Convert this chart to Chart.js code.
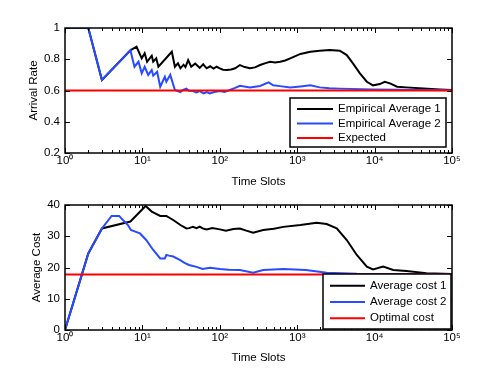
<!DOCTYPE html>
<html>
<head>
<meta charset="utf-8">
<script src="https://cdn.jsdelivr.net/npm/chart.js@4.4.1/dist/chart.umd.min.js"></script>
<style>
  html, body { margin: 0; padding: 0; background: #fff; }
  #wrap { position: relative; width: 498px; height: 375px; }
  .box { position: absolute; left: 0; width: 498px; }
</style>
</head>
<body>
<div id="wrap">
  <div class="box" style="top:0;height:190px"><canvas id="rateChart" width="498" height="190"></canvas></div>
  <div class="box" style="top:190px;height:185px"><canvas id="costChart" width="498" height="185"></canvas></div>
</div>
<script>
// Sumbu dan label
const xTicksMajor = [1, 10, 100, 1000, 10000, 100000];
const xTickLabels = ['10⁰', '10¹', '10²', '10³', '10⁴', '10⁵'];
const rateTicks = [0.2, 0.4, 0.6, 0.8, 1];
const rateTickLabels = ['0.2', '0.4', '0.6', '0.8', '1'];
const costTicks = [0, 10, 20, 30, 40];
const costTickLabels = ['0', '10', '20', '30', '40'];

const rateNames = ['Empirical Average 1', 'Empirical Average 2', 'Expected'];
const costNames = ['Average cost 1', 'Average cost 2', 'Optimal cost'];

// Grafik atas: laju kedatangan
const rate1Slots = [1, 2, 3, 7, 8.4, 9.8, 10.7, 11.5, 13.2, 13.8, 15.1, 16.1, 24, 26.3, 28.8, 31, 34, 36, 39, 42.7, 48, 55, 61, 67.6, 75, 83, 91, 100, 110, 123, 140, 158, 182, 210, 245, 285, 331, 390, 447, 520, 603, 700, 813, 1100, 1480, 1950, 2630, 3550, 4370, 5250, 6460, 7940, 9550, 11700, 13500, 15800, 19500, 25700, 42700, 69200, 100000];
const rate1Values = [1, 1, 0.667, 0.857, 0.88, 0.806, 0.838, 0.784, 0.823, 0.784, 0.806, 0.752, 0.848, 0.752, 0.774, 0.742, 0.765, 0.75, 0.795, 0.752, 0.772, 0.745, 0.768, 0.742, 0.755, 0.74, 0.752, 0.742, 0.733, 0.731, 0.735, 0.742, 0.763, 0.75, 0.742, 0.748, 0.763, 0.775, 0.784, 0.78, 0.784, 0.792, 0.806, 0.834, 0.848, 0.855, 0.859, 0.855, 0.827, 0.774, 0.71, 0.656, 0.633, 0.641, 0.656, 0.646, 0.624, 0.62, 0.613, 0.607, 0.603];
const rate2Slots = [1, 2, 3, 7, 7.9, 8.9, 9.8, 10.7, 11.9, 13.2, 13.8, 15.5, 17, 19.5, 20.4, 22.9, 26.3, 28, 30.9, 33, 37, 40, 44.7, 50, 55, 61.7, 68, 74, 85, 100, 115, 135, 155, 182, 245, 331, 427, 490, 600, 813, 1100, 1480, 1950, 2600, 3550, 9550, 100000];
const rate2Values = [1, 1, 0.667, 0.857, 0.752, 0.784, 0.71, 0.752, 0.70, 0.731, 0.695, 0.72, 0.624, 0.688, 0.656, 0.70, 0.603, 0.598, 0.59, 0.602, 0.612, 0.598, 0.597, 0.588, 0.596, 0.582, 0.59, 0.581, 0.59, 0.597, 0.59, 0.603, 0.615, 0.63, 0.62, 0.629, 0.652, 0.633, 0.628, 0.62, 0.626, 0.633, 0.62, 0.615, 0.612, 0.607, 0.601];
const expectedRate = 0.6;

// Grafik bawah: biaya rata-rata
const cost1Slots = [1, 2, 3, 7, 11, 13.2, 17, 20.4, 25, 31, 37, 40, 45, 50, 55, 60, 67.6, 80, 100, 120, 150, 182, 220, 270, 363, 500, 661, 1100, 1780, 2400, 3240, 4370, 5890, 7940, 9550, 12900, 17400, 25700, 46800, 100000];
const cost1Values = [0, 24.5, 32.5, 34.7, 39.7, 37.9, 36.5, 36.5, 35.2, 33.6, 32.5, 32.6, 33, 32.6, 33.1, 32.5, 32.2, 32.6, 32.2, 31.8, 32.3, 32.5, 31.8, 31.1, 32, 32.4, 33, 33.6, 34.3, 33.9, 32.5, 28.8, 24, 20.3, 19.4, 20.3, 19.2, 18.9, 18.2, 17.9];
const cost2Slots = [1, 2, 3, 4, 5, 5.6, 6.5, 7.1, 8.1, 9.3, 11.2, 13.8, 17, 19.5, 20.4, 22, 25, 30, 35, 40, 50, 60, 75, 100, 130, 182, 270, 363, 661, 1300, 2400, 5890, 100000];
const cost2Values = [0, 24.5, 32.5, 36.5, 36.5, 35.2, 33.6, 32, 31.5, 30.9, 28.8, 25.6, 22.9, 22.9, 24, 23.8, 23.5, 22.5, 21.5, 20.8, 20.2, 19.5, 19.9, 19.5, 19.3, 19.2, 18.3, 19.2, 19.5, 19.2, 18.3, 18, 17.9];
const optimalCost = 17.8;

const FONT = '"Liberation Sans", Arial, Helvetica, sans-serif';
const BLUE = 'rgb(40, 75, 255)';
Chart.defaults.color = '#000';
Chart.defaults.font.family = FONT;
Chart.defaults.font.size = 11.5;

function titik(xs, ys) {
  return xs.map((x, i) => ({ x: x, y: ys[i] }));
}

// Tick log: 1..9 tiap dekade
const xTickValues = [];
for (let d = 0; d < 5; d++) {
  for (let k = 1; k <= 9; k++) xTickValues.push(k * Math.pow(10, d));
}
xTickValues.push(100000);

// Bingkai dan tick ke dalam ala MATLAB
const bingkai = {
  id: 'bingkai',
  afterDatasetsDraw(chart) {
    const { ctx, chartArea: a, scales } = chart;
    const x = scales.x, y = scales.y;
    ctx.save();
    ctx.strokeStyle = '#000';
    ctx.lineWidth = 1;
    ctx.beginPath();
    x.ticks.forEach(t => {
      const px = Math.round(x.getPixelForValue(t.value)) + 0.5;
      const len = xTicksMajor.includes(t.value) ? 5 : 3;
      ctx.moveTo(px, a.bottom); ctx.lineTo(px, a.bottom - len);
      ctx.moveTo(px, a.top); ctx.lineTo(px, a.top + len);
    });
    y.ticks.forEach(t => {
      const py = Math.round(y.getPixelForValue(t.value)) + 0.5;
      ctx.moveTo(a.left, py); ctx.lineTo(a.left + 5, py);
      ctx.moveTo(a.right, py); ctx.lineTo(a.right - 5, py);
    });
    ctx.stroke();
    ctx.lineWidth = 1.5;
    ctx.strokeRect(a.left, a.top, a.right - a.left, a.bottom - a.top);
    ctx.restore();
  }
};

// Legenda kotak di dalam area grafik
const legendaKotak = {
  id: 'legendaKotak',
  afterDraw(chart, args, o) {
    const ctx = chart.ctx;
    ctx.save();
    ctx.fillStyle = '#fff';
    ctx.fillRect(o.left, o.top, o.width, o.height);
    ctx.strokeStyle = '#000';
    ctx.lineWidth = 1.5;
    ctx.strokeRect(o.left, o.top, o.width, o.height);
    ctx.font = '11.5px ' + FONT;
    ctx.textBaseline = 'middle';
    chart.data.datasets.forEach((ds, i) => {
      const cy = o.firstRow + i * o.rowGap;
      ctx.strokeStyle = ds.borderColor;
      ctx.lineWidth = 2;
      ctx.beginPath();
      ctx.moveTo(o.lineFrom, cy);
      ctx.lineTo(o.lineTo, cy);
      ctx.stroke();
      ctx.fillStyle = '#000';
      ctx.fillText(ds.label, o.textX, cy);
    });
    ctx.restore();
  }
};

function seri(label, data, color, order) {
  return { label: label, data: data, borderColor: color, borderWidth: 2, pointRadius: 0, tension: 0, order: order };
}

function buatGrafik(id, cfg) {
  return new Chart(document.getElementById(id), {
    type: 'line',
    data: { datasets: cfg.datasets },
    plugins: [bingkai, legendaKotak],
    options: {
      responsive: false,
      animation: false,
      layout: { padding: { top: cfg.padTop, right: 46, left: 0, bottom: 0 } },
      plugins: {
        legend: { display: false },
        tooltip: { enabled: false },
        legendaKotak: cfg.legend
      },
      scales: {
        x: {
          type: 'logarithmic',
          min: 1,
          max: 100000,
          afterBuildTicks: s => { s.ticks = xTickValues.map(v => ({ value: v })); },
          afterFit: s => { s.height = cfg.xHeight; },
          grid: { display: false, drawTicks: false },
          border: { display: false },
          ticks: {
            autoSkip: false,
            maxRotation: 0,
            padding: 1,
            callback: v => {
              const i = xTicksMajor.indexOf(v);
              return i >= 0 ? xTickLabels[i] : '';
            }
          },
          title: { display: true, text: 'Time Slots', padding: { top: 0, bottom: cfg.xTitlePad } }
        },
        y: {
          min: cfg.yMin,
          max: cfg.yMax,
          afterBuildTicks: s => { s.ticks = cfg.yTicks.map(v => ({ value: v })); },
          afterFit: s => { s.width = 65; },
          grid: { display: false, drawTicks: false },
          border: { display: false },
          ticks: {
            padding: 5,
            callback: v => {
              const i = cfg.yTicks.indexOf(v);
              return i >= 0 ? cfg.yLabels[i] : '';
            }
          },
          title: { display: true, text: cfg.yTitle, padding: { top: cfg.yTitlePad, bottom: 0 } }
        }
      }
    }
  });
}

buatGrafik('rateChart', {
  datasets: [
    seri(rateNames[0], titik(rate1Slots, rate1Values), '#000', 3),
    seri(rateNames[1], titik(rate2Slots, rate2Values), BLUE, 2),
    seri(rateNames[2], titik([1, 100000], [expectedRate, expectedRate]), '#ff0000', 1)
  ],
  yMin: 0.2, yMax: 1, yTicks: rateTicks, yLabels: rateTickLabels, yTitle: 'Arrival Rate',
  padTop: 28, xHeight: 37, xTitlePad: 1.6, yTitlePad: 26.5,
  legend: { left: 290, top: 98, width: 156, height: 49, firstRow: 109, rowGap: 14.5, lineFrom: 297, lineTo: 333, textX: 338 }
});

buatGrafik('costChart', {
  datasets: [
    seri(costNames[0], titik(cost1Slots, cost1Values), '#000', 3),
    seri(costNames[1], titik(cost2Slots, cost2Values), BLUE, 2),
    seri(costNames[2], titik([1, 100000], [optimalCost, optimalCost]), '#ff0000', 1)
  ],
  yMin: 0, yMax: 40, yTicks: costTicks, yLabels: costTickLabels, yTitle: 'Average Cost',
  padTop: 15, xHeight: 45, xTitlePad: 10.6, yTitlePad: 29.6,
  legend: { left: 323, top: 84, width: 128, height: 55, firstRow: 95.7, rowGap: 16.3, lineFrom: 330, lineTo: 365, textX: 370 }
});
</script>
</body>
</html>
